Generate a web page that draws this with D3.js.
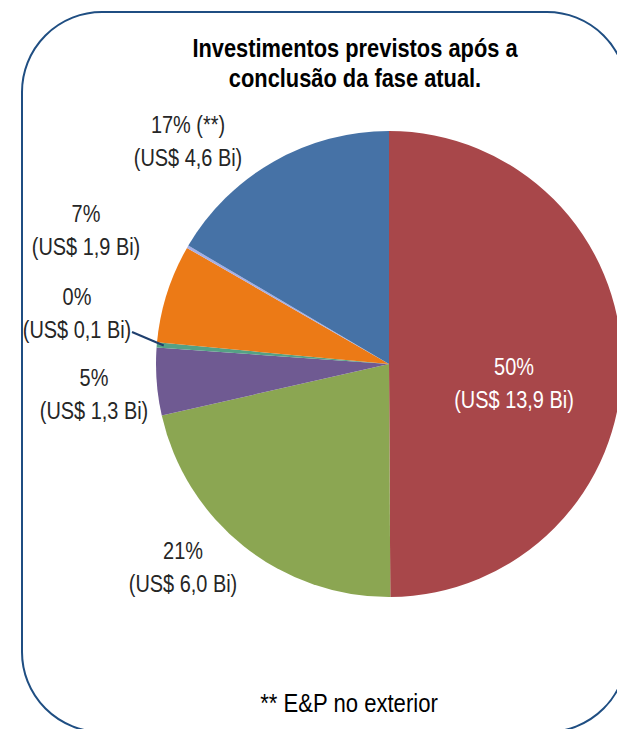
<!DOCTYPE html>
<html>
<head>
<meta charset="utf-8">
<script src="https://cdn.jsdelivr.net/npm/d3@7"></script>
<style>
  body { margin: 0; background: #fff; }
  text { font-family: "Liberation Sans Narrow", "Arial Narrow", "Liberation Sans", Arial, sans-serif; }
</style>
</head>
<body>
<div id="chart"></div>
<script>
// data, clockwise from 12 o'clock
const slices = ['red', 'green', 'purple', 'teal', 'orange', 'lavender', 'blue'];
const values = [13.9, 6.0, 1.3, 0.1, 1.9, 0.05, 4.6];
const pctLabels = ['50%', '21%', '5%', '0%', '7%', '', '17% (**)'];
const valLabels = ['(US$ 13,9 Bi)', '(US$ 6,0 Bi)', '(US$ 1,3 Bi)', '(US$ 0,1 Bi)', '(US$ 1,9 Bi)', '', '(US$ 4,6 Bi)'];
const colors = ['#a8474a', '#8ba652', '#6f5a92', '#55a185', '#ec7a16', '#a4aee6', '#4672a6'];
const titleLines = ['Investimentos previstos após a', 'conclusão da fase atual.'];
const footnote = '** E&P no exterior';

// label layout (first line baseline centre), null = no label
const labelPos = [[514, 375], [183, 559], [94, 386], [77, 305], [86, 222], null, [188, 133]];

const width = 617;
const height = 729;
const cx = 389, cy = 364, radius = 233;
const narrow = 0.83; // no Arial Narrow here, squeeze Liberation Sans instead

const svg = d3.select('#chart')
  .append('svg')
  .attr('width', width)
  .attr('height', height);

// frame
svg.append('rect')
  .attr('x', 22).attr('y', 12)
  .attr('width', 605).attr('height', 720)
  .attr('rx', 80).attr('ry', 80)
  .attr('fill', 'none')
  .attr('stroke', '#1f4e82')
  .attr('stroke-width', 2);

const addText = (x, y, str, size, opts = {}) => svg.append('text')
  .attr('transform', `translate(${x},${y}) scale(${opts.sx || narrow},1)`)
  .attr('text-anchor', 'middle')
  .attr('font-size', size)
  .attr('font-weight', opts.bold ? 'bold' : 'normal')
  .attr('fill', opts.fill || '#000')
  .text(str);

// title
titleLines.forEach((t, i) => addText(355, 57 + i * 30, t, 26, { bold: true, sx: 0.84 }));

const data = slices.map((s, i) => ({ name: s, value: values[i], color: colors[i],
  pct: pctLabels[i], val: valLabels[i], pos: labelPos[i] }));

const pie = d3.pie().sort(null).value((d) => d.value);
const arc = d3.arc().innerRadius(0).outerRadius(radius);
const arcs = pie(data);

const g = svg.append('g').attr('transform', `translate(${cx},${cy})`);

g.selectAll('path')
  .data(arcs)
  .enter()
  .append('path')
  .attr('d', arc)
  .attr('fill', (d) => d.data.color);

// leader line for the tiny teal slice
const teal = arcs[3];
const mid = (teal.startAngle + teal.endAngle) / 2;
const r2 = radius * 0.97;
svg.append('line')
  .attr('x1', 132).attr('y1', 332)
  .attr('x2', cx + r2 * Math.sin(mid))
  .attr('y2', cy - r2 * Math.cos(mid))
  .attr('stroke', '#1f3f6e')
  .attr('stroke-width', 2);

// labels
arcs.filter((d) => d.data.pos).forEach((d) => {
  const fill = d.data.name === 'red' ? '#fff' : '#262626';
  addText(d.data.pos[0], d.data.pos[1], d.data.pct, 24, { fill });
  addText(d.data.pos[0], d.data.pos[1] + 33, d.data.val, 24, { fill });
});

addText(349, 712, footnote, 26, { fill: '#000', sx: 0.85 });
</script>
</body>
</html>
